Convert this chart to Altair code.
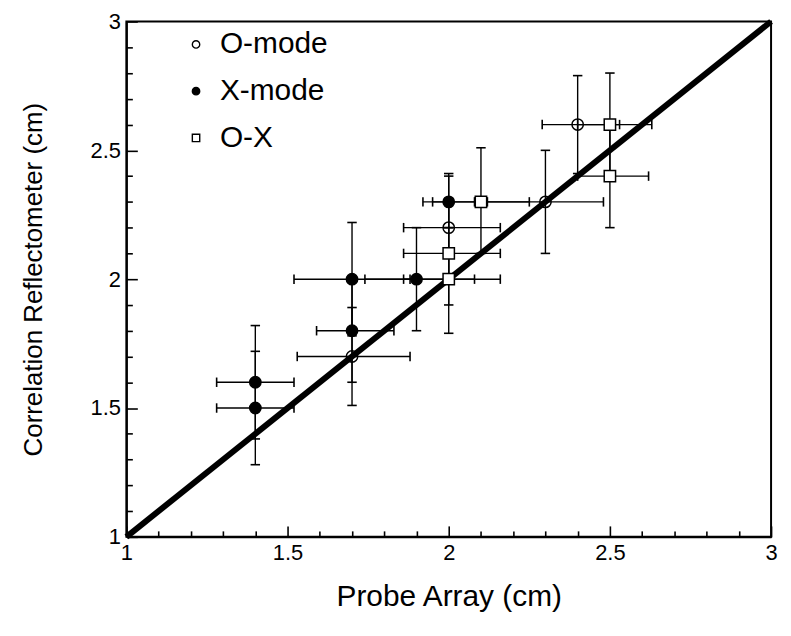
import altair as alt
import pandas as pd

modes = ["O-mode", "X-mode", "O-X"]

# O-mode (open circles)
o_x = [1.7, 2.0, 2.3, 2.4]
o_y = [1.7, 2.2, 2.3, 2.6]
o_xlo = [1.53, 1.86, 2.12, 2.29]
o_xhi = [1.88, 2.16, 2.48, 2.53]
o_ylo = [1.51, 2.0, 2.1, 2.41]
o_yhi = [1.89, 2.4, 2.5, 2.79]

# X-mode (filled circles)
x_x = [1.4, 1.4, 1.7, 1.7, 1.9, 2.0]
x_y = [1.6, 1.5, 2.0, 1.8, 2.0, 2.3]
x_xlo = [1.28, 1.28, 1.52, 1.59, 1.74, 1.92]
x_xhi = [1.52, 1.52, 1.88, 1.83, 2.08, 2.08]
x_ylo = [1.38, 1.28, 1.78, 1.6, 1.8, 2.2]
x_yhi = [1.82, 1.72, 2.22, 2.0, 2.2, 2.41]

# O-X (open squares)
ox_x = [2.0, 2.0, 2.1, 2.5, 2.5]
ox_y = [2.0, 2.1, 2.3, 2.6, 2.4]
ox_xlo = [1.86, 1.86, 1.95, 2.4, 2.4]
ox_xhi = [2.16, 2.16, 2.25, 2.63, 2.62]
ox_ylo = [1.79, 1.9, 2.1, 2.4, 2.2]
ox_yhi = [2.2, 2.3, 2.51, 2.8, 2.6]

line_vals = [1, 3]
# axis tick positions (every 0.1), labelled every 0.5
tick_vals = [1.0, 1.1, 1.2, 1.3, 1.4, 1.5, 1.6, 1.7, 1.8, 1.9, 2.0,
             2.1, 2.2, 2.3, 2.4, 2.5, 2.6, 2.7, 2.8, 2.9, 3.0]

W, H = 648, 518


def frame(mode, xs, ys, xlo, xhi, ylo, yhi):
    return pd.DataFrame({"mode": mode, "x": xs, "y": ys, "xlo": xlo,
                         "xhi": xhi, "ylo": ylo, "yhi": yhi})


df = pd.concat([
    frame("O-mode", o_x, o_y, o_xlo, o_xhi, o_ylo, o_yhi),
    frame("X-mode", x_x, x_y, x_xlo, x_xhi, x_ylo, x_yhi),
    frame("O-X", ox_x, ox_y, ox_xlo, ox_xhi, ox_ylo, ox_yhi),
], ignore_index=True)

line_df = pd.DataFrame({"x": line_vals, "y": line_vals})

FONT = "Liberation Sans"
xs = alt.Scale(domain=[1, 3], nice=False, zero=False, padding=0)
ys = alt.Scale(domain=[1, 3], nice=False, zero=False, padding=0)
XT = "Probe Array (cm)"
YT = "Correlation Reflectometer (cm)"

IS_MAJOR = "abs(datum.value * 2 - round(datum.value * 2)) < 0.001"
TICK_SIZE = {"expr": f"{IS_MAJOR} ? -11 : -6"}
LABELS = f"{IS_MAJOR} ? datum.label : ''"

xaxis = alt.Axis(values=tick_vals, ticks=True, tickSize=TICK_SIZE, tickWidth=1.6,
                 tickColor="black", labelExpr=LABELS,
                 labelPadding=17, titlePadding=13,
                 labelFontSize=22, titleFontSize=30, format="~g", grid=False,
                 labelFlush=False, labelOverlap=False)
yaxis = alt.Axis(values=tick_vals, ticks=True, tickSize=TICK_SIZE, tickWidth=1.6,
                 tickColor="black", labelExpr=LABELS,
                 labelPadding=17, titlePadding=44,
                 labelFontSize=22, titleFontSize=26, format="~g", grid=False,
                 labelFlush=False, labelOverlap=False)


def X(f):
    return alt.X(f, type="quantitative", scale=xs, axis=xaxis, title=XT)


def Y(f):
    return alt.Y(f, type="quantitative", scale=ys, axis=yaxis, title=YT)


base = alt.Chart(df)

xbars = base.mark_rule(color="black", strokeWidth=1.4).encode(
    x=X("xlo"), x2="xhi", y=Y("y"))
ybars = base.mark_rule(color="black", strokeWidth=1.4).encode(
    x=X("x"), y=Y("ylo"), y2="yhi")
xcaps = base.transform_fold(["xlo", "xhi"], as_=["k", "v"]).mark_point(
    shape="stroke", color="black", size=90, strokeWidth=1.6, angle=90, opacity=1).encode(
    x=X("v:Q"), y=Y("y"))
ycaps = base.transform_fold(["ylo", "yhi"], as_=["k", "v"]).mark_point(
    shape="stroke", color="black", size=90, strokeWidth=1.6, opacity=1).encode(
    x=X("x"), y=Y("v:Q"))

shape_enc = alt.Shape("mode:N", scale=alt.Scale(domain=modes, range=["circle", "circle", "square"]),
                      title=None)
fill_enc = alt.Fill("mode:N", scale=alt.Scale(domain=modes, range=["transparent", "black", "white"]),
                    title=None)
stroke_enc = alt.Stroke("mode:N", scale=alt.Scale(domain=modes, range=["black", "black", "black"]),
                        title=None)

circles = base.transform_filter(alt.datum.mode != "O-X").mark_point(
    filled=True, strokeWidth=1.5, size=130, opacity=1).encode(
    x=X("x"), y=Y("y"), shape=shape_enc, fill=fill_enc, stroke=stroke_enc)

squares = base.transform_filter(alt.datum.mode == "O-X").mark_point(
    filled=True, strokeWidth=1.5, size=130, opacity=1).encode(
    x=X("x"), y=Y("y"), shape=shape_enc, fill=fill_enc, stroke=stroke_enc)

diag = alt.Chart(line_df).mark_line(color="black", strokeWidth=6).encode(
    x=X("x"), y=Y("y"))

chart = alt.layer(
    xbars, ybars, xcaps, ycaps, circles, diag, squares
).properties(
    width=W, height=H,
    autosize=alt.AutoSizeParams(type="none"),
    padding={"left": 119, "top": 12, "right": 12, "bottom": 82},
    background="white",
).configure_view(
    stroke="black", strokeWidth=2
).configure_axis(
    labelFont=FONT, titleFont=FONT, labelColor="black", titleColor="black",
    titleFontWeight="normal", domainColor="black", domainWidth=2,
).configure_legend(
    orient="none", legendX=55, legendY=8, padding=0,
    labelFont=FONT, labelFontSize=30, labelColor="black",
    symbolSize=55, symbolStrokeWidth=1.4,
    labelOffset=9, rowPadding=17, symbolOffset=0,
)

chart.save("out.html", embed_options={"renderer": "svg", "actions": False})
